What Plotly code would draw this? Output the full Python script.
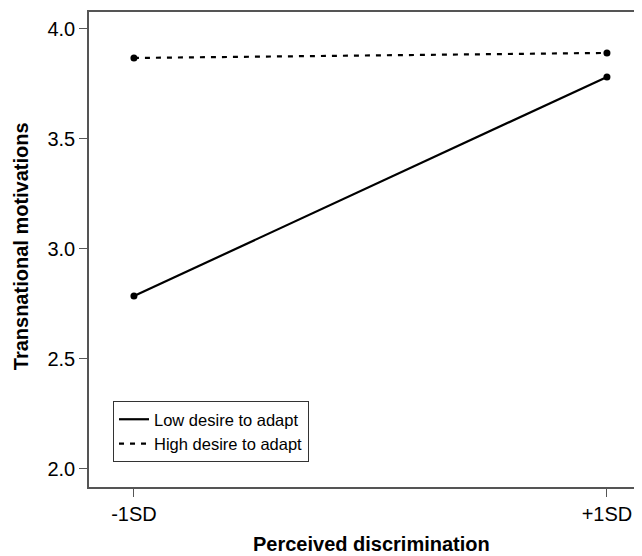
import plotly.graph_objects as go

x_labels = ["-1SD", "+1SD"]
x_pos = [0, 1]
low_desire = [2.786, 3.782]
high_desire = [3.868, 3.891]
y_ticks = [2.0, 2.5, 3.0, 3.5, 4.0]

FONT = "Liberation Sans, Arial"

fig = go.Figure()
# lines (shown in legend)
fig.add_trace(go.Scatter(x=x_pos, y=low_desire, mode="lines", name="Low desire to adapt",
                         line=dict(color="black", width=2.2, dash="solid")))
fig.add_trace(go.Scatter(x=x_pos, y=high_desire, mode="lines", name="High desire to adapt",
                         line=dict(color="black", width=2.2, dash="5px,6px")))
# end-point markers
fig.add_trace(go.Scatter(x=x_pos, y=low_desire, mode="markers", showlegend=False,
                         marker=dict(color="black", size=7)))
fig.add_trace(go.Scatter(x=x_pos, y=high_desire, mode="markers", showlegend=False,
                         marker=dict(color="black", size=7)))

axis_common = dict(showline=True, linecolor="#555555", linewidth=1.5, mirror=True,
                   ticks="outside", ticklen=8, tickcolor="#555555", showgrid=False, zeroline=False,
                   automargin=False,
                   tickfont=dict(family=FONT, size=20, color="black"))

fig.update_xaxes(range=[-0.095, 1.072], tickvals=x_pos, ticktext=x_labels, **axis_common)
fig.update_yaxes(range=[1.918, 4.077], tickvals=y_ticks, ticktext=[f"{v:.1f}" for v in y_ticks],
                 **axis_common)

fig.add_annotation(text="<b>Perceived discrimination</b>", xref="paper", yref="paper",
                   x=0.511, y=-0.12, xanchor="center", yanchor="middle", showarrow=False,
                   font=dict(family=FONT, size=20, color="black"))
fig.add_annotation(text="<b>Transnational motivations</b>", xref="paper", yref="paper",
                   x=-0.124, y=0.506, xanchor="center", yanchor="middle", showarrow=False,
                   textangle=-90, font=dict(family=FONT, size=20, color="black"))

# figure is offset 8px by the page body margin; compensate in size/margins
fig.update_layout(
    width=634, height=548,
    margin=dict(l=81, r=1, t=4, b=69),
    paper_bgcolor="white", plot_bgcolor="white",
    showlegend=True,
    legend=dict(x=0.0435, y=0.181, xanchor="left", yanchor="top",
                bordercolor="#333333", borderwidth=1, bgcolor="white",
                font=dict(family=FONT, size=16.5, color="black"),
                tracegroupgap=0, itemwidth=30),
)

fig.write_html("out.html")
